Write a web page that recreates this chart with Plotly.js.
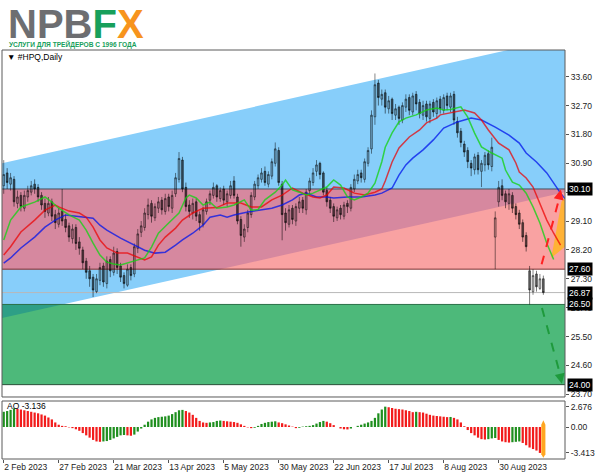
<!DOCTYPE html>
<html><head><meta charset="utf-8">
<script src="https://cdn.plot.ly/plotly-3.0.1.min.js"></script>
<style>body{margin:0;background:#fff}#chart{width:600px;height:476px}</style>
</head><body><div id="chart"></div>
<script>
// ---- candles (HPQ daily) ----
const opens=[30.20,30.60,30.25,30.40,29.65,29.90,29.50,29.85,30.00,30.25,
30.15,29.90,29.65,29.35,29.70,29.30,29.00,29.40,29.15,28.95,
28.55,28.90,28.45,28.20,27.85,27.55,27.35,26.90,27.25,27.70,
27.15,27.90,27.50,28.15,27.70,27.40,27.10,27.65,27.45,28.25,
28.75,28.90,29.30,29.65,29.20,29.50,29.75,29.40,29.85,29.50,
29.95,30.40,31.00,30.15,29.60,29.35,29.70,29.30,29.00,29.40,
29.75,29.90,30.20,29.80,30.10,29.70,29.90,30.35,29.85,29.15,
28.60,28.90,29.30,29.85,30.20,30.40,30.65,30.25,30.50,30.90,
31.30,30.25,29.35,29.00,29.50,29.10,29.50,29.75,29.45,30.05,
30.30,30.65,30.90,30.60,30.05,29.75,29.55,29.20,29.50,29.25,
29.65,29.50,30.10,30.35,30.60,30.40,30.90,31.35,32.35,33.40,
32.90,33.10,32.60,32.90,32.40,32.65,32.25,32.65,32.95,32.50,
33.05,32.80,32.40,32.75,32.30,32.80,32.45,32.90,32.55,33.00,
32.65,33.05,32.20,31.90,31.50,31.30,30.90,30.70,31.15,30.65,
30.85,31.20,30.80,28.60,29.70,30.20,29.95,29.65,29.90,29.55,
29.35,29.05,28.65,27.55,26.90,27.45,27.00,27.30];
const highs=[31.00,30.75,30.60,30.50,30.05,30.00,30.05,30.20,30.35,30.40,
30.25,30.00,29.80,29.85,29.80,29.45,29.50,30.10,29.30,29.05,
29.00,29.00,28.60,28.30,27.95,27.70,27.45,27.45,27.80,27.80,
28.00,28.00,28.30,28.25,27.80,27.50,27.75,27.75,28.40,28.85,
29.10,29.50,29.80,29.75,29.65,29.85,29.85,29.95,29.95,30.05,
30.60,31.25,31.10,30.30,29.75,29.80,29.80,29.40,29.55,29.80,
30.05,30.30,30.25,30.15,30.20,30.05,30.35,30.50,29.95,29.25,
29.00,29.45,30.00,30.35,30.55,30.75,30.80,30.65,31.05,31.55,
31.40,30.35,29.50,29.60,29.60,29.65,29.85,29.85,30.10,30.45,
30.75,31.00,30.95,30.65,30.15,29.85,29.65,29.55,29.60,29.70,
29.75,30.25,30.55,30.70,30.70,31.05,31.40,32.55,33.70,33.50,
33.20,33.20,33.00,32.95,32.75,32.70,32.80,33.05,33.05,33.10,
33.15,32.90,32.85,32.85,32.85,32.90,32.95,33.00,33.05,33.10,
33.10,33.15,32.35,32.00,31.60,31.40,31.00,31.20,31.25,31.00,
31.25,31.30,31.70,29.40,30.35,30.40,30.05,30.10,30.00,29.65,
29.45,29.15,28.75,27.70,27.60,27.55,27.45,27.40];
const lows=[29.95,30.10,30.05,29.55,29.50,29.40,29.40,29.70,29.90,29.95,
29.70,29.45,29.20,29.25,29.10,28.85,28.90,28.95,28.75,28.45,
28.40,28.20,28.05,27.60,27.30,27.05,26.73,26.85,27.10,27.05,
27.00,27.35,27.40,27.45,27.20,27.00,27.05,27.25,27.35,28.10,
28.60,28.80,29.15,29.05,29.10,29.35,29.30,29.30,29.40,29.35,
29.85,30.30,30.00,29.40,29.20,29.15,29.10,28.80,28.90,29.30,
29.60,29.80,29.70,29.70,29.60,29.55,29.80,29.80,29.00,28.30,
28.45,28.75,29.20,29.75,30.10,30.30,30.20,30.15,30.40,30.80,
30.20,28.50,28.80,28.90,29.00,28.95,29.35,29.35,29.30,29.90,
30.20,30.50,30.40,29.90,29.55,29.35,29.07,29.10,29.15,29.15,
29.35,29.40,30.00,30.25,30.30,30.30,30.80,31.20,32.10,32.70,
32.70,32.45,32.45,32.25,32.25,32.10,32.15,32.50,32.40,32.40,
32.55,32.30,32.25,32.20,32.15,32.35,32.30,32.45,32.45,32.55,
32.50,32.10,31.70,31.40,31.10,30.75,30.50,30.55,30.55,30.16,
30.65,30.70,30.65,27.60,29.55,29.75,29.50,29.45,29.35,29.15,
28.85,28.45,28.15,26.50,26.80,26.90,26.95,26.80];
const closes=[30.55,30.30,30.45,29.70,29.85,29.55,29.90,30.05,30.20,30.10,
29.85,29.60,29.40,29.65,29.25,29.05,29.35,29.10,28.90,28.60,
28.85,28.40,28.25,27.80,27.50,27.30,26.95,27.30,27.65,27.20,
27.85,27.55,28.10,27.65,27.35,27.15,27.60,27.40,28.30,28.70,
28.95,29.35,29.60,29.25,29.55,29.70,29.45,29.80,29.55,29.90,
30.45,31.05,30.10,29.55,29.40,29.65,29.25,29.05,29.45,29.70,
29.95,30.15,29.85,30.05,29.75,29.95,30.20,29.90,29.10,28.65,
28.85,29.35,29.90,30.25,30.45,30.60,30.30,30.55,30.95,31.35,
30.30,29.30,29.05,29.45,29.15,29.55,29.70,29.50,30.00,30.35,
30.60,30.85,30.55,30.00,29.70,29.50,29.25,29.45,29.30,29.60,
29.55,30.15,30.40,30.55,30.45,30.95,31.30,32.40,33.35,32.95,
33.05,32.65,32.85,32.45,32.60,32.30,32.70,32.90,32.55,33.00,
32.75,32.45,32.70,32.35,32.75,32.50,32.85,32.60,32.95,32.70,
33.00,32.25,31.85,31.55,31.25,30.95,30.75,31.10,30.70,30.90,
31.15,30.85,31.40,29.20,30.15,29.90,29.70,29.95,29.50,29.30,
29.00,28.60,28.30,26.95,27.40,27.05,27.30,26.87];

// ---- Awesome Oscillator ----
const aoValues=[2.00,2.10,2.25,2.45,2.40,2.30,2.20,2.10,2.00,1.90,
1.80,1.65,1.50,1.25,1.00,0.60,0.30,0.15,0.10,-0.05,
-0.15,-0.30,-0.50,-0.80,-1.10,-1.40,-1.70,-1.90,-1.95,-1.90,
-1.85,-1.70,-1.50,-1.30,-1.10,-1.05,-1.10,-1.15,-1.00,-0.60,
-0.20,0.30,0.70,1.00,1.20,1.30,1.35,1.40,1.50,1.70,
1.95,2.20,2.25,2.10,1.90,1.60,1.20,0.80,0.60,0.55,
0.60,0.65,0.80,0.85,0.80,0.75,0.70,0.65,0.55,0.35,
0.15,-0.05,-0.15,-0.10,0.15,0.40,0.55,0.65,0.70,0.75,
0.60,0.50,0.35,0.20,0.05,-0.15,-0.10,0.05,0.10,0.15,
0.25,0.45,0.65,0.80,0.70,0.50,0.25,0.00,-0.20,-0.30,
-0.32,-0.20,0.00,0.15,0.30,0.45,0.60,0.80,1.20,1.80,
2.30,2.676,2.60,2.50,2.40,2.35,2.30,2.20,2.10,1.95,
2.00,1.95,1.90,1.75,1.60,1.50,1.45,1.40,1.35,1.30,
1.32,1.20,1.00,0.60,0.10,-0.40,-0.80,-1.10,-1.40,-1.60,
-1.65,-1.60,-1.50,-1.45,-1.70,-1.90,-2.00,-2.05,-2.00,-1.95,
-1.90,-2.10,-2.40,-2.70,-2.90,-3.10,-3.413,-3.136];

// ---- Alligator lines (already shifted) ----
const lipsX=[0,2,5,9,12,14,16,19,22,24,26,28,30,32,34,36,39,41,43,45,48,51,53,54,56,58,60,62,65,67,70,72,74,76,79,81,82,84,86,88,90,92,94,96,98,100,102,104,106,108,110,111,113,115,117,120,123,126,128,130,133,135,137,139,142,145,146,148,150,152,154,156,158,160];
const lipsY=[28.51,29.13,29.54,29.69,29.85,29.69,29.50,29.29,29.13,28.82,28.41,28.04,27.82,27.76,27.73,27.79,27.89,27.95,28.29,28.72,29.04,29.35,29.82,29.91,29.82,29.60,29.69,29.50,29.54,29.60,29.76,29.44,29.46,29.76,30.00,30.22,30.38,30.07,30.00,29.91,29.97,30.07,30.16,30.38,30.22,29.85,29.76,29.85,29.97,30.28,30.95,31.40,31.85,32.19,32.31,32.41,32.56,32.62,32.56,32.58,32.66,32.34,31.84,31.41,31.22,31.06,30.69,30.31,30.22,29.97,29.54,29.04,28.41,27.90];
const teethX=[0,2,5,9,12,15,16,19,22,24,26,28,30,33,36,39,41,43,45,47,50,52,55,58,62,65,69,72,75,78,81,84,87,90,92,94,96,99,102,105,108,110,111,113,115,118,121,123,126,127,130,134,137,139,141,144,147,149,150,152,154,156,158,160,162];
const teethY=[28.04,28.30,28.76,29.13,29.44,29.60,29.54,29.41,29.35,29.22,28.91,28.51,28.26,28.10,28.10,27.98,27.89,27.98,28.35,28.60,28.88,29.13,29.35,29.50,29.52,29.66,29.66,29.54,29.54,29.76,29.91,30.13,29.97,29.85,29.82,29.91,30.16,30.13,29.97,29.91,30.00,30.10,30.35,30.94,31.38,31.72,31.94,32.16,32.31,32.41,32.47,32.56,32.47,32.25,31.94,31.53,31.32,30.91,30.63,30.44,30.16,29.66,29.13,28.72,28.35];
const jawX=[0,2,5,9,12,15,18,20,24,26,28,30,34,38,41,44,47,50,52,55,58,60,63,65,67,71,75,78,81,84,86,88,91,94,96,100,104,108,110,113,115,117,119,122,125,128,132,136,139,143,147,150,152,155,158,160,162,163.3];
const jawY=[27.79,27.95,28.26,28.60,28.91,29.13,29.29,29.26,29.22,29.19,28.97,28.82,28.57,28.35,28.19,28.10,28.13,28.35,28.51,28.72,28.97,29.22,29.29,29.22,29.29,29.38,29.44,29.50,29.60,29.76,29.91,29.97,29.85,29.85,29.82,29.85,29.85,29.91,29.97,30.13,30.53,30.85,31.06,31.32,31.63,32.00,32.19,32.31,32.25,32.03,31.78,31.53,31.22,30.94,30.60,30.28,29.97,29.80];

// ---- axes / labels ----
const priceTicks=[33.6,32.7,31.8,30.9,30.0,29.1,28.2,27.3,26.4,25.5,24.6,23.7];
const aoTicks=[2.676,0,-3.413];
const aoTickText=['2.676','0.00','-3.413'];
const dateTickIdx=[0,16,32,48,64,80,96,112,128,144];
const dateLabels=['2 Feb 2023','27 Feb 2023','21 Mar 2023','13 Apr 2023','5 May 2023','30 May 2023','22 Jun 2023','17 Jul 2023','8 Aug 2023','30 Aug 2023'];

// ---- drawn objects ----
const channelX=[-0.5,163.3];
const channelTop=[30.90,34.83];
const channelBottom=[26.08,30.00];
const resistanceZone=[27.60,30.10];
const supportZone=[24.00,26.50];
const markedLevels=['30.10','27.60','26.87','26.50','24.00'];
const bidPrice=26.87;
const upArrow={from:[156.5,27.75],to:[162.1,30.08]};
const downArrow={from:[156.6,26.39],to:[162.4,24.03]};
const aoNow='-3.136';

const idx=closes.map((_,i)=>i);
const X0=channelX[0], X1=channelX[1];
const botAt=x=>channelBottom[0]+(channelBottom[1]-channelBottom[0])*(x-X0)/(X1-X0);
const xAtBot=p=>X0+(p-channelBottom[0])*(X1-X0)/(channelBottom[1]-channelBottom[0]);
const path=pts=>'M'+pts.map(p=>p[0]+','+p[1]).join('L')+'Z';

const aoColors=aoValues.map((v,i)=>i===0||v>=aoValues[i-1]?'#1f8f1f':'#f21c1c');

const traces=[
 {type:'candlestick',x:idx,open:opens,high:highs,low:lows,close:closes,xaxis:'x',yaxis:'y',
  increasing:{line:{color:'rgba(0,0,0,0.6)',width:0.8},fillcolor:'rgba(0,0,0,0.2)'},
  decreasing:{line:{color:'rgba(0,0,0,0.66)',width:0.8},fillcolor:'rgba(0,0,0,0.6)'},
  whiskerwidth:0,hoverinfo:'skip',showlegend:false},
 {type:'scatter',mode:'lines',x:jawX,y:jawY,yaxis:'y',line:{color:'rgba(0,20,235,0.75)',width:1.5},hoverinfo:'skip'},
 {type:'scatter',mode:'lines',x:teethX,y:teethY,yaxis:'y',line:{color:'rgba(235,0,0,0.72)',width:1.5},hoverinfo:'skip'},
 {type:'scatter',mode:'lines',x:lipsX,y:lipsY,yaxis:'y',line:{color:'rgba(20,210,20,0.78)',width:1.5},hoverinfo:'skip'},
 {type:'bar',x:idx,y:aoValues,yaxis:'y2',marker:{color:aoColors,line:{width:0}},hoverinfo:'skip'}
];

const shapes=[
 {type:'path',xref:'x',yref:'y',layer:'below',path:path([[X0,channelTop[0]],[X1,channelTop[1]],[X1,channelBottom[1]],[X0,channelBottom[0]]]),fillcolor:'#87CEFA',line:{width:0}},
 {type:'rect',xref:'x',yref:'y',layer:'below',x0:X0,x1:X1,y0:resistanceZone[0],y1:resistanceZone[1],fillcolor:'#F9A2A2',line:{width:0}},
 {type:'path',xref:'x',yref:'y',layer:'below',path:path([[X0,resistanceZone[0]],[xAtBot(resistanceZone[0]),resistanceZone[0]],[X1,botAt(X1)],[X1,resistanceZone[1]],[X0,resistanceZone[1]]]),fillcolor:'#D6889F',line:{width:0}},
 {type:'rect',xref:'x',yref:'y',layer:'below',x0:X0,x1:X1,y0:supportZone[0],y1:supportZone[1],fillcolor:'#4DB97A',line:{width:0}},
 {type:'path',xref:'x',yref:'y',layer:'below',path:path([[X0,botAt(X0)],[xAtBot(supportZone[1]),supportZone[1]],[X0,supportZone[1]]]),fillcolor:'#2E9F86',line:{width:0}},
 {type:'line',xref:'x',yref:'y',layer:'below',x0:X0,x1:X1,y0:resistanceZone[1],y1:resistanceZone[1],line:{color:'#46505e',width:1}},
 {type:'line',xref:'x',yref:'y',layer:'below',x0:X0,x1:X1,y0:resistanceZone[0],y1:resistanceZone[0],line:{color:'#7a3434',width:1}},
 {type:'line',xref:'x',yref:'y',layer:'below',x0:X0,x1:X1,y0:supportZone[1],y1:supportZone[1],line:{color:'#2a7048',width:1}},
 {type:'line',xref:'x',yref:'y',layer:'below',x0:X0,x1:X1,y0:supportZone[0],y1:supportZone[0],line:{color:'#2a5038',width:1}},
 {type:'line',xref:'x',yref:'y',layer:'below',x0:X0,x1:X1,y0:bidPrice,y1:bidPrice,line:{color:'#b8b8b8',width:1}},
 {type:'path',xref:'x',yref:'y',layer:'below',path:path([[159.3,27.95],[162.3,29.7],[163.3,29.85],[163.3,28.3]]),fillcolor:'#FFB236',line:{width:0}},
 {type:'line',xref:'x',yref:'y',layer:'above',x0:upArrow.from[0],y0:upArrow.from[1],x1:upArrow.to[0]-0.3,y1:upArrow.to[1]-0.2,line:{color:'#ff2020',width:2,dash:'dash'}},
 {type:'line',xref:'x',yref:'y',layer:'above',x0:downArrow.from[0],y0:downArrow.from[1],x1:downArrow.to[0]-0.3,y1:downArrow.to[1]+0.2,line:{color:'#1e9a3c',width:2,dash:'dash'}},
 {type:'path',xref:'x',yref:'y2',layer:'above',path:path([[157,0.9],[157.6,0.3],[157.6,-3.6],[157,-4.05],[156.4,-3.6],[156.4,0.3]]),fillcolor:'#FFA620',line:{width:0}},
 {type:'rect',xref:'paper',yref:'paper',layer:'above',x0:0,x1:1,y0:0.1516,y1:1,line:{color:'#5a5a5a',width:1}},
 {type:'rect',xref:'paper',yref:'paper',layer:'above',x0:0,x1:1,y0:0,y1:0.1418,line:{color:'#5a5a5a',width:1}}
];

const lblFont={family:'Liberation Sans, Arial, sans-serif',size:8.5,color:'#222'};
const annotations=[
 {xref:'x',yref:'y',x:upArrow.to[0],y:upArrow.to[1],ax:-2,ay:9,showarrow:true,arrowhead:2,arrowsize:1,arrowwidth:2,arrowcolor:'#ff2020',text:''},
 {xref:'x',yref:'y',x:downArrow.to[0],y:downArrow.to[1],ax:-2,ay:-9,showarrow:true,arrowhead:2,arrowsize:1,arrowwidth:2,arrowcolor:'#1e9a3c',text:''},
 ...markedLevels.map(v=>({xref:'paper',yref:'y',x:1.0036,y:parseFloat(v),xanchor:'left',yanchor:'middle',showarrow:false,text:v,bgcolor:'#000',borderpad:1,font:{family:'Liberation Sans, Arial, sans-serif',size:8.5,color:'#fff'}})),
 {xref:'paper',yref:'paper',x:0.0053,y:0.9829,xanchor:'left',yanchor:'middle',showarrow:false,text:'▼ #HPQ,Daily',font:{family:'Liberation Sans, Arial, sans-serif',size:8.5,color:'#000'}},
 {xref:'paper',yref:'paper',x:0.0053,y:0.1296,xanchor:'left',yanchor:'middle',showarrow:false,text:'AO '+aoNow,font:{family:'Liberation Sans, Arial, sans-serif',size:8.5,color:'#000'}},
 {xref:'paper',yref:'paper',x:0.0071,y:1.0647,xanchor:'left',yanchor:'middle',showarrow:false,
  text:'<b><span style="color:#6d6e71">NPB</span><span style="color:#17a05b">F</span><span style="color:#f7941d">X</span></b>',
  font:{family:'Liberation Sans, Arial, sans-serif',size:40}},
 {xref:'paper',yref:'paper',x:0.009,y:1.0135,xanchor:'left',yanchor:'middle',showarrow:false,
  text:'<b>УСЛУГИ ДЛЯ ТРЕЙДЕРОВ С 1996 ГОДА</b>',font:{family:'Liberation Sans, Arial, sans-serif',size:6.6,color:'#17a05b'}}
];

const layout={width:600,height:476,margin:{l:2,r:35,t:50,b:17},paper_bgcolor:'#fff',plot_bgcolor:'#fff',
 showlegend:false,hovermode:false,bargap:0.35,
 xaxis:{domain:[0,1],range:[X0,X1],anchor:'y2',tickvals:dateTickIdx,ticktext:dateLabels,ticks:'outside',ticklen:3,tickcolor:'#555',
  tickangle:0,ticklabelposition:'outside right',tickfont:lblFont,showgrid:false,zeroline:false,showline:false,rangeslider:{visible:false},fixedrange:true},
 yaxis:{domain:[0.1516,1],range:[23.615,34.432],side:'right',anchor:'x',tickvals:priceTicks,ticktext:priceTicks.map(v=>v.toFixed(2)),
  ticks:'outside',ticklen:3,tickcolor:'#555',tickfont:lblFont,showgrid:false,zeroline:false,showline:false,fixedrange:true},
 yaxis2:{domain:[0,0.1418],range:[-4.21,3.42],side:'right',anchor:'x',tickvals:aoTicks,ticktext:aoTickText,
  ticks:'outside',ticklen:3,tickcolor:'#555',tickfont:lblFont,showgrid:false,zeroline:false,showline:false,fixedrange:true},
 shapes:shapes,annotations:annotations};

Plotly.newPlot('chart',traces,layout,{staticPlot:true,displayModeBar:false});
</script></body></html>
